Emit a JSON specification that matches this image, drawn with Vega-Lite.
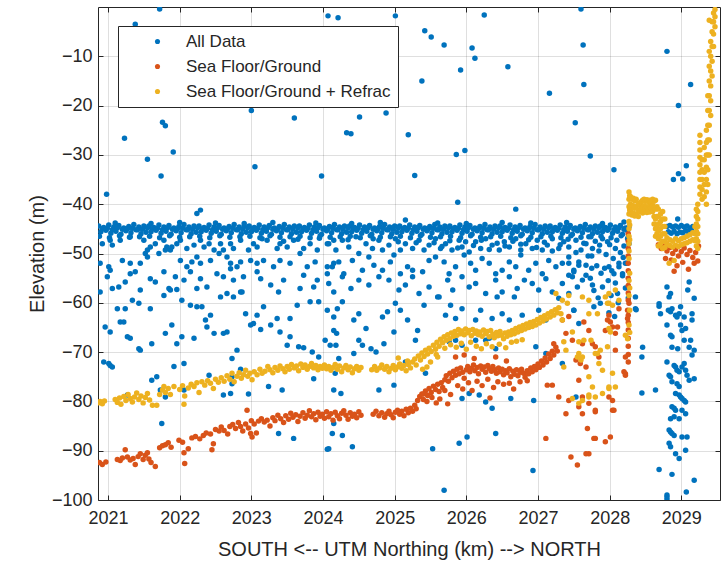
{
"$schema":"https://vega.github.io/schema/vega-lite/v6.json",
"width":622,"height":493,
"autosize":"none",
"padding":{"left":98,"top":7,"right":3,"bottom":62},
"background":"white",
"config":{
"font":"Liberation Sans",
"view":{"stroke":"#262626","strokeWidth":1},
"axis":{"labelFont":"Liberation Sans","labelFontSize":18,"labelColor":"#262626","titleFont":"Liberation Sans","titleFontSize":20,"titleFontWeight":"normal","titleColor":"#262626","domain":false,"tickColor":"#262626","gridColor":"#262626","gridOpacity":0.15,"tickSize":-5,"labelPadding":11},
"legend":{"orient":"none","legendX":20,"legendY":19,"direction":"vertical","padding":7,"symbolOffset":24,"labelOffset":20,"rowPadding":7,"labelFontSize":17,"labelFont":"Liberation Sans","labelColor":"#262626","strokeColor":"#262626","fillColor":"white","symbolType":"circle","symbolSize":26,"symbolStrokeWidth":0,"labelLimit":400,"cornerRadius":0}
},
"datasets":{
"all":[
{"x":2020.98,"y":-38},{"x":2021.38,"y":-3.5},{"x":2021.72,"y":-0.4},{"x":2021.23,"y":-26.6},{"x":2021.55,"y":-30.9},{"x":2021.76,"y":-23.4},{"x":2021.8,"y":-24.1},{"x":2021.91,"y":-29.4},{"x":2021.74,"y":-34.3},{"x":2022.24,"y":-41.9},{"x":2022.29,"y":-41.2},{"x":2023,"y":-21},{"x":2023.05,"y":-32.4},{"x":2023.6,"y":-22.5},{"x":2023.98,"y":-34.3},{"x":2024.07,"y":-1.8},{"x":2024.21,"y":-2.2},{"x":2025.01,"y":-1.8},{"x":2025.42,"y":-4.8},{"x":2025.51,"y":-6.1},{"x":2025.69,"y":-7.7},{"x":2026.08,"y":-8.3},{"x":2026.12,"y":-10.4},{"x":2026.25,"y":-1.6},{"x":2025.92,"y":-12.8},{"x":2026.58,"y":-12.1},{"x":2025.38,"y":-15},{"x":2024.51,"y":-22.3},{"x":2024.88,"y":-21.5},{"x":2024.33,"y":-25.5},{"x":2024.39,"y":-25.7},{"x":2025.19,"y":-25.9},{"x":2025.86,"y":-29.9},{"x":2025.98,"y":-29.1},{"x":2025.28,"y":-34.2},{"x":2025.88,"y":-39.6},{"x":2026.69,"y":-41},{"x":2027.16,"y":-17.5},{"x":2027.6,"y":-0.4},{"x":2027.63,"y":-7.7},{"x":2027.64,"y":-15.7},{"x":2027.52,"y":-23.5},{"x":2027.73,"y":-30.2},{"x":2028.06,"y":-33},{"x":2028.8,"y":-9},{"x":2029.13,"y":-15.7},{"x":2028.96,"y":-20},{"x":2029.07,"y":-32.2},{"x":2028.96,"y":-33.8},{"x":2028.89,"y":-35},{"x":2029.02,"y":-34.9},{"x":2028.95,"y":-43},{"x":2025.15,"y":-43.2},
{"x":2020.87,"y":-44.4},{"x":2020.94,"y":-44.7},{"x":2021.01,"y":-44.2},{"x":2021.08,"y":-44.6},{"x":2021.15,"y":-44.3},{"x":2021.22,"y":-44.8},{"x":2021.29,"y":-44.5},{"x":2021.36,"y":-44.1},{"x":2021.43,"y":-44.6},{"x":2021.5,"y":-44.4},
{"x":2021.57,"y":-44.4},{"x":2021.64,"y":-44.7},{"x":2021.71,"y":-44.2},{"x":2021.78,"y":-44.6},{"x":2021.85,"y":-44.3},{"x":2021.92,"y":-44.8},{"x":2021.99,"y":-44.5},{"x":2022.06,"y":-44.1},{"x":2022.13,"y":-44.6},{"x":2022.2,"y":-44.4},
{"x":2022.27,"y":-44.4},{"x":2022.34,"y":-44.7},{"x":2022.41,"y":-44.2},{"x":2022.48,"y":-44.6},{"x":2022.55,"y":-44.3},{"x":2022.62,"y":-44.8},{"x":2022.69,"y":-44.5},{"x":2022.76,"y":-44.1},{"x":2022.83,"y":-44.6},{"x":2022.9,"y":-44.4},
{"x":2022.97,"y":-44.4},{"x":2023.04,"y":-44.7},{"x":2023.11,"y":-44.2},{"x":2023.18,"y":-44.6},{"x":2023.25,"y":-44.3},{"x":2023.32,"y":-44.8},{"x":2023.39,"y":-44.5},{"x":2023.46,"y":-44.1},{"x":2023.53,"y":-44.6},{"x":2023.6,"y":-44.4},
{"x":2023.67,"y":-44.4},{"x":2023.74,"y":-44.7},{"x":2023.81,"y":-44.2},{"x":2023.88,"y":-44.6},{"x":2023.95,"y":-44.3},{"x":2024.02,"y":-44.8},{"x":2024.09,"y":-44.5},{"x":2024.16,"y":-44.1},{"x":2024.23,"y":-44.6},{"x":2024.3,"y":-44.4},
{"x":2024.37,"y":-44.4},{"x":2024.44,"y":-44.7},{"x":2024.51,"y":-44.2},{"x":2024.58,"y":-44.6},{"x":2024.65,"y":-44.3},{"x":2024.72,"y":-44.8},{"x":2024.79,"y":-44.5},{"x":2024.86,"y":-44.1},{"x":2024.93,"y":-44.6},{"x":2025,"y":-44.4},
{"x":2025.07,"y":-44.4},{"x":2025.14,"y":-44.7},{"x":2025.21,"y":-44.2},{"x":2025.28,"y":-44.6},{"x":2025.35,"y":-44.3},{"x":2025.42,"y":-44.8},{"x":2025.49,"y":-44.5},{"x":2025.56,"y":-44.1},{"x":2025.63,"y":-44.6},{"x":2025.7,"y":-44.4},
{"x":2025.77,"y":-44.4},{"x":2025.84,"y":-44.7},{"x":2025.91,"y":-44.2},{"x":2025.98,"y":-44.6},{"x":2026.05,"y":-44.3},{"x":2026.12,"y":-44.8},{"x":2026.19,"y":-44.5},{"x":2026.26,"y":-44.1},{"x":2026.33,"y":-44.6},{"x":2026.4,"y":-44.4},
{"x":2026.47,"y":-44.4},{"x":2026.54,"y":-44.7},{"x":2026.61,"y":-44.2},{"x":2026.68,"y":-44.6},{"x":2026.75,"y":-44.3},{"x":2026.82,"y":-44.8},{"x":2026.89,"y":-44.5},{"x":2026.96,"y":-44.1},{"x":2027.03,"y":-44.6},{"x":2027.1,"y":-44.4},
{"x":2027.17,"y":-44.4},{"x":2027.24,"y":-44.7},{"x":2027.31,"y":-44.2},{"x":2027.38,"y":-44.6},{"x":2027.45,"y":-44.3},{"x":2027.52,"y":-44.8},{"x":2027.59,"y":-44.5},{"x":2027.66,"y":-44.1},{"x":2027.73,"y":-44.6},{"x":2027.8,"y":-44.4},
{"x":2027.87,"y":-44.4},{"x":2027.94,"y":-44.7},{"x":2028.01,"y":-44.2},{"x":2028.08,"y":-44.6},{"x":2028.15,"y":-44.3},{"x":2028.22,"y":-44.8},{"x":2028.27,"y":-44.5},
{"x":2020.92,"y":-45},{"x":2020.99,"y":-44.9},{"x":2021.06,"y":-45.2},{"x":2021.13,"y":-44.8},{"x":2021.2,"y":-45.1},{"x":2021.27,"y":-45},{"x":2021.34,"y":-44.9},{"x":2021.41,"y":-45.2},{"x":2021.48,"y":-45.1},{"x":2021.55,"y":-44.8},
{"x":2021.62,"y":-45},{"x":2021.69,"y":-44.9},{"x":2021.76,"y":-45.2},{"x":2021.83,"y":-44.8},{"x":2021.9,"y":-45.1},{"x":2021.97,"y":-45},{"x":2022.04,"y":-44.9},{"x":2022.11,"y":-45.2},{"x":2022.18,"y":-45.1},{"x":2022.25,"y":-44.8},
{"x":2022.32,"y":-45},{"x":2022.39,"y":-44.9},{"x":2022.46,"y":-45.2},{"x":2022.53,"y":-44.8},{"x":2022.6,"y":-45.1},{"x":2022.67,"y":-45},{"x":2022.74,"y":-44.9},{"x":2022.81,"y":-45.2},{"x":2022.88,"y":-45.1},{"x":2022.95,"y":-44.8},
{"x":2023.02,"y":-45},{"x":2023.09,"y":-44.9},{"x":2023.16,"y":-45.2},{"x":2023.23,"y":-44.8},{"x":2023.3,"y":-45.1},{"x":2023.37,"y":-45},{"x":2023.44,"y":-44.9},{"x":2023.51,"y":-45.2},{"x":2023.58,"y":-45.1},{"x":2023.65,"y":-44.8},
{"x":2023.72,"y":-45},{"x":2023.79,"y":-44.9},{"x":2023.86,"y":-45.2},{"x":2023.93,"y":-44.8},{"x":2024,"y":-45.1},{"x":2024.07,"y":-45},{"x":2024.14,"y":-44.9},{"x":2024.21,"y":-45.2},{"x":2024.28,"y":-45.1},{"x":2024.35,"y":-44.8},
{"x":2024.42,"y":-45},{"x":2024.49,"y":-44.9},{"x":2024.56,"y":-45.2},{"x":2024.63,"y":-44.8},{"x":2024.7,"y":-45.1},{"x":2024.77,"y":-45},{"x":2024.84,"y":-44.9},{"x":2024.91,"y":-45.2},{"x":2024.98,"y":-45.1},{"x":2025.05,"y":-44.8},
{"x":2025.12,"y":-45},{"x":2025.19,"y":-44.9},{"x":2025.26,"y":-45.2},{"x":2025.33,"y":-44.8},{"x":2025.4,"y":-45.1},{"x":2025.47,"y":-45},{"x":2025.54,"y":-44.9},{"x":2025.61,"y":-45.2},{"x":2025.68,"y":-45.1},{"x":2025.75,"y":-44.8},
{"x":2025.82,"y":-45},{"x":2025.89,"y":-44.9},{"x":2025.96,"y":-45.2},{"x":2026.03,"y":-44.8},{"x":2026.1,"y":-45.1},{"x":2026.17,"y":-45},{"x":2026.24,"y":-44.9},{"x":2026.31,"y":-45.2},{"x":2026.38,"y":-45.1},{"x":2026.45,"y":-44.8},
{"x":2026.52,"y":-45},{"x":2026.59,"y":-44.9},{"x":2026.66,"y":-45.2},{"x":2026.73,"y":-44.8},{"x":2026.8,"y":-45.1},{"x":2026.87,"y":-45},{"x":2026.94,"y":-44.9},{"x":2027.01,"y":-45.2},{"x":2027.08,"y":-45.1},{"x":2027.15,"y":-44.8},
{"x":2027.22,"y":-45},{"x":2027.29,"y":-44.9},{"x":2027.36,"y":-45.2},{"x":2027.43,"y":-44.8},{"x":2027.5,"y":-45.1},{"x":2027.57,"y":-45},{"x":2027.64,"y":-44.9},{"x":2027.71,"y":-45.2},{"x":2027.78,"y":-45.1},{"x":2027.85,"y":-44.8},
{"x":2027.92,"y":-45},{"x":2027.99,"y":-44.9},{"x":2028.06,"y":-45.2},{"x":2028.13,"y":-44.8},{"x":2028.2,"y":-45.1},
{"x":2020.9,"y":-45.6},{"x":2020.97,"y":-45.3},{"x":2021.04,"y":-45.9},{"x":2021.11,"y":-45.5},{"x":2021.18,"y":-46.1},{"x":2021.25,"y":-45.4},{"x":2021.32,"y":-45.8},{"x":2021.39,"y":-45.2},{"x":2021.46,"y":-46},{"x":2021.53,"y":-45.7},
{"x":2021.6,"y":-45.6},{"x":2021.67,"y":-45.3},{"x":2021.74,"y":-45.9},{"x":2021.81,"y":-45.5},{"x":2021.88,"y":-46.1},{"x":2021.95,"y":-45.4},{"x":2022.02,"y":-45.8},{"x":2022.09,"y":-45.2},{"x":2022.16,"y":-46},{"x":2022.23,"y":-45.7},
{"x":2022.3,"y":-45.6},{"x":2022.37,"y":-45.3},{"x":2022.44,"y":-45.9},{"x":2022.51,"y":-45.5},{"x":2022.58,"y":-46.1},{"x":2022.65,"y":-45.4},{"x":2022.72,"y":-45.8},{"x":2022.79,"y":-45.2},{"x":2022.86,"y":-46},{"x":2022.93,"y":-45.7},
{"x":2023,"y":-45.6},{"x":2023.07,"y":-45.3},{"x":2023.14,"y":-45.9},{"x":2023.21,"y":-45.5},{"x":2023.28,"y":-46.1},{"x":2023.35,"y":-45.4},{"x":2023.42,"y":-45.8},{"x":2023.49,"y":-45.2},{"x":2023.56,"y":-46},{"x":2023.63,"y":-45.7},
{"x":2023.7,"y":-45.6},{"x":2023.77,"y":-45.3},{"x":2023.84,"y":-45.9},{"x":2023.91,"y":-45.5},{"x":2023.98,"y":-46.1},{"x":2024.05,"y":-45.4},{"x":2024.12,"y":-45.8},{"x":2024.19,"y":-45.2},{"x":2024.26,"y":-46},{"x":2024.33,"y":-45.7},
{"x":2024.4,"y":-45.6},{"x":2024.47,"y":-45.3},{"x":2024.54,"y":-45.9},{"x":2024.61,"y":-45.5},{"x":2024.68,"y":-46.1},{"x":2024.75,"y":-45.4},{"x":2024.82,"y":-45.8},{"x":2024.89,"y":-45.2},{"x":2024.96,"y":-46},{"x":2025.03,"y":-45.7},
{"x":2025.1,"y":-45.6},{"x":2025.17,"y":-45.3},{"x":2025.24,"y":-45.9},{"x":2025.31,"y":-45.5},{"x":2025.38,"y":-46.1},{"x":2025.45,"y":-45.4},{"x":2025.52,"y":-45.8},{"x":2025.59,"y":-45.2},{"x":2025.66,"y":-46},{"x":2025.73,"y":-45.7},
{"x":2025.8,"y":-45.6},{"x":2025.87,"y":-45.3},{"x":2025.94,"y":-45.9},{"x":2026.01,"y":-45.5},{"x":2026.08,"y":-46.1},{"x":2026.15,"y":-45.4},{"x":2026.22,"y":-45.8},{"x":2026.29,"y":-45.2},{"x":2026.36,"y":-46},{"x":2026.43,"y":-45.7},
{"x":2026.5,"y":-45.6},{"x":2026.57,"y":-45.3},{"x":2026.64,"y":-45.9},{"x":2026.71,"y":-45.5},{"x":2026.78,"y":-46.1},{"x":2026.85,"y":-45.4},{"x":2026.92,"y":-45.8},{"x":2026.99,"y":-45.2},{"x":2027.06,"y":-46},{"x":2027.13,"y":-45.7},
{"x":2027.2,"y":-45.6},{"x":2027.27,"y":-45.3},{"x":2027.34,"y":-45.9},{"x":2027.41,"y":-45.5},{"x":2027.48,"y":-46.1},{"x":2027.55,"y":-45.4},{"x":2027.62,"y":-45.8},{"x":2027.69,"y":-45.2},{"x":2027.76,"y":-46},{"x":2027.83,"y":-45.7},
{"x":2027.9,"y":-45.6},{"x":2027.97,"y":-45.3},{"x":2028.04,"y":-45.9},{"x":2028.11,"y":-45.5},{"x":2028.18,"y":-46.1},{"x":2028.25,"y":-45.4},
{"x":2021.1,"y":-43.8},{"x":2021.6,"y":-43.9},{"x":2022,"y":-43.7},{"x":2022.5,"y":-43.8},{"x":2022.9,"y":-43.9},{"x":2023.3,"y":-43.7},{"x":2023.9,"y":-43.8},{"x":2024.4,"y":-43.9},{"x":2024.8,"y":-43.7},{"x":2025.6,"y":-43.8},{"x":2026,"y":-43.9},{"x":2026.5,"y":-43.7},{"x":2026.9,"y":-43.8},{"x":2027.4,"y":-43.7},{"x":2027.9,"y":-43.9},{"x":2028.2,"y":-43.6},
{"x":2020.88,"y":-46.5},{"x":2021.02,"y":-46.8},{"x":2021.16,"y":-46.4},{"x":2021.3,"y":-46.7},{"x":2021.44,"y":-46.6},{"x":2021.58,"y":-46.5},{"x":2021.72,"y":-46.8},{"x":2021.86,"y":-46.4},{"x":2022,"y":-46.7},{"x":2022.14,"y":-46.6},{"x":2022.28,"y":-46.5},{"x":2022.42,"y":-46.8},{"x":2022.56,"y":-46.4},{"x":2022.7,"y":-46.7},{"x":2022.84,"y":-46.6},{"x":2022.98,"y":-46.5},{"x":2023.12,"y":-46.8},{"x":2023.26,"y":-46.4},{"x":2023.4,"y":-46.7},{"x":2023.54,"y":-46.6},{"x":2023.68,"y":-46.5},{"x":2023.82,"y":-46.8},{"x":2023.96,"y":-46.4},{"x":2024.1,"y":-46.7},{"x":2024.24,"y":-46.6},{"x":2024.38,"y":-46.5},{"x":2024.52,"y":-46.8},{"x":2024.66,"y":-46.4},{"x":2024.8,"y":-46.7},{"x":2024.94,"y":-46.6},{"x":2025.08,"y":-46.5},{"x":2025.22,"y":-46.8},{"x":2025.36,"y":-46.4},{"x":2025.5,"y":-46.7},{"x":2025.64,"y":-46.6},{"x":2025.78,"y":-46.5},{"x":2025.92,"y":-46.8},{"x":2026.06,"y":-46.4},{"x":2026.2,"y":-46.7},{"x":2026.34,"y":-46.6},{"x":2026.48,"y":-46.5},{"x":2026.62,"y":-46.8},{"x":2026.76,"y":-46.4},{"x":2026.9,"y":-46.7},{"x":2027.04,"y":-46.6},{"x":2027.18,"y":-46.5},{"x":2027.32,"y":-46.8},{"x":2027.46,"y":-46.4},{"x":2027.6,"y":-46.7},{"x":2027.74,"y":-46.6},{"x":2027.88,"y":-46.5},{"x":2028.02,"y":-46.8},{"x":2028.16,"y":-46.4},{"x":2028.26,"y":-46.7},
{"x":2020.92,"y":-48},{"x":2021.03,"y":-47.3},{"x":2021.06,"y":-48.3},{"x":2021.17,"y":-47.3},{"x":2021.31,"y":-46.6},{"x":2021.5,"y":-47.3},{"x":2021.55,"y":-49.3},{"x":2021.59,"y":-48.7},{"x":2021.66,"y":-48},{"x":2021.78,"y":-47.3},{"x":2021.82,"y":-48.7},{"x":2021.87,"y":-49.3},{"x":2021.96,"y":-48},{"x":2022.01,"y":-47.3},{"x":2022.1,"y":-49},{"x":2022.2,"y":-48.3},{"x":2022.29,"y":-47.3},{"x":2022.34,"y":-48.7},{"x":2022.41,"y":-48},{"x":2022.48,"y":-49.3},{"x":2022.57,"y":-48},{"x":2022.61,"y":-49.3},{"x":2022.71,"y":-48},{"x":2022.75,"y":-49},{"x":2022.85,"y":-47.3},{"x":2022.96,"y":-49.3},{"x":2023.03,"y":-48},{"x":2023.08,"y":-48.7},{"x":2023.22,"y":-47.3},{"x":2023.36,"y":-49},{"x":2023.4,"y":-48},{"x":2023.5,"y":-48.7},{"x":2023.59,"y":-47.3},{"x":2023.73,"y":-49},{"x":2023.82,"y":-48},{"x":2023.92,"y":-49.3},{"x":2024.06,"y":-48},{"x":2024.15,"y":-47.3},
{"x":2020.89,"y":-52},{"x":2021.01,"y":-52.7},{"x":2021.03,"y":-53.4},{"x":2021.2,"y":-51.4},{"x":2021.31,"y":-52},{"x":2021.45,"y":-52},{"x":2021.52,"y":-50},{"x":2021.55,"y":-50.7},{"x":2021.71,"y":-50},{"x":2021.8,"y":-49.3},{"x":2021.89,"y":-48.7},{"x":2022.01,"y":-51.4},{"x":2022.1,"y":-52.7},{"x":2022.17,"y":-51.7},{"x":2022.24,"y":-50.7},{"x":2022.29,"y":-52},{"x":2022.43,"y":-51.4},{"x":2022.55,"y":-50},{"x":2022.66,"y":-50.7},{"x":2022.71,"y":-52},{"x":2022.8,"y":-52.7},{"x":2022.85,"y":-51.7},{"x":2022.99,"y":-51.4},{"x":2023.08,"y":-52},{"x":2023.17,"y":-51.4},{"x":2023.31,"y":-52.7},{"x":2023.4,"y":-51.4},{"x":2023.54,"y":-52},{"x":2023.68,"y":-50},{"x":2023.78,"y":-52.7},{"x":2023.89,"y":-51.7},{"x":2024.06,"y":-52.7},{"x":2024.15,"y":-52},
{"x":2020.99,"y":-54.7},{"x":2021.06,"y":-57.1},{"x":2021.15,"y":-56.8},{"x":2021.24,"y":-55.8},{"x":2021.31,"y":-54.1},{"x":2021.38,"y":-53.7},{"x":2021.45,"y":-57.4},{"x":2021.59,"y":-55.1},{"x":2021.66,"y":-55.8},{"x":2021.78,"y":-53.7},{"x":2021.87,"y":-57.4},{"x":2021.94,"y":-54.7},{"x":2021.96,"y":-57.3},{"x":2022.06,"y":-55.4},{"x":2022.15,"y":-53.7},{"x":2022.24,"y":-57.1},{"x":2022.29,"y":-55.1},{"x":2022.38,"y":-56.8},{"x":2022.52,"y":-54.1},{"x":2022.61,"y":-54.7},{"x":2022.71,"y":-53.1},{"x":2022.75,"y":-55.4},{"x":2022.85,"y":-57.8},{"x":2022.89,"y":-54.7},{"x":2023.08,"y":-53.7},{"x":2023.13,"y":-55.1},{"x":2023.27,"y":-56.4},{"x":2023.38,"y":-57.8},{"x":2023.45,"y":-55.4},{"x":2023.68,"y":-57.1},{"x":2023.73,"y":-54.4},{"x":2023.87,"y":-56.8},{"x":2023.92,"y":-55.4},{"x":2024.06,"y":-54.1},
{"x":2020.89,"y":-57.8},{"x":2021.13,"y":-61.2},{"x":2021.24,"y":-61.2},{"x":2021.34,"y":-59.5},{"x":2021.43,"y":-60.1},{"x":2021.59,"y":-61.2},{"x":2021.78,"y":-58.5},{"x":2021.85,"y":-57.1},{"x":2022.03,"y":-59.5},{"x":2022.15,"y":-60.5},{"x":2022.24,"y":-60.8},{"x":2022.31,"y":-60.8},{"x":2022.36,"y":-63.5},{"x":2022.43,"y":-62.5},{"x":2022.57,"y":-58.8},{"x":2022.66,"y":-58.1},{"x":2022.75,"y":-58.8},{"x":2022.87,"y":-57.8},{"x":2022.92,"y":-62.2},{"x":2023.08,"y":-62.5},{"x":2023.17,"y":-60.8},{"x":2023.27,"y":-64.5},{"x":2023.36,"y":-63.2},{"x":2023.54,"y":-63.2},{"x":2023.64,"y":-60.5},{"x":2023.82,"y":-59.8},{"x":2023.94,"y":-59.8},{"x":2024.06,"y":-61.5},{"x":2024.15,"y":-62.9},
{"x":2020.96,"y":-64.9},{"x":2021.03,"y":-65.9},{"x":2021.17,"y":-63.9},{"x":2021.22,"y":-63.9},{"x":2021.27,"y":-66.9},{"x":2021.31,"y":-67.2},{"x":2021.43,"y":-69.3},{"x":2021.45,"y":-69.6},{"x":2021.61,"y":-68.3},{"x":2021.8,"y":-66.2},{"x":2021.89,"y":-64.5},{"x":2021.96,"y":-68.3},{"x":2022.03,"y":-66.9},{"x":2022.2,"y":-67.2},{"x":2022.38,"y":-64.9},{"x":2022.48,"y":-66.2},{"x":2022.61,"y":-66.2},{"x":2022.66,"y":-65.9},{"x":2022.8,"y":-69.6},{"x":2022.99,"y":-64.5},{"x":2023.03,"y":-64.2},{"x":2023.13,"y":-65.4},{"x":2023.4,"y":-65.9},{"x":2023.54,"y":-66.9},{"x":2023.5,"y":-68.6},{"x":2023.66,"y":-68.9},{"x":2023.73,"y":-69.1},{"x":2023.85,"y":-70},{"x":2023.94,"y":-71},{"x":2024.03,"y":-67.6},{"x":2024.1,"y":-68.6},{"x":2024.19,"y":-66.2},
{"x":2020.94,"y":-72},{"x":2021.01,"y":-72.3},{"x":2021.03,"y":-72.7},{"x":2021.06,"y":-73},{"x":2021.61,"y":-75.7},{"x":2021.68,"y":-75},{"x":2021.73,"y":-77.7},{"x":2021.8,"y":-79.1},{"x":2021.92,"y":-72.9},{"x":2022.06,"y":-72.3},{"x":2022.06,"y":-77.7},{"x":2022.41,"y":-74.7},{"x":2022.61,"y":-78.7},{"x":2022.71,"y":-78.4},{"x":2022.73,"y":-71.3},{"x":2022.73,"y":-75},{"x":2022.73,"y":-76.4},{"x":2022.85,"y":-73.5},{"x":2022.96,"y":-78.5},{"x":2023.43,"y":-77.7},{"x":2023.24,"y":-77},{"x":2023.87,"y":-75.4},{"x":2024.17,"y":-74.3},{"x":2024.15,"y":-77.7},
{"x":2021.27,"y":-78.7},{"x":2021.75,"y":-84.5},{"x":2023.38,"y":-86.5},{"x":2023.59,"y":-87.5},{"x":2024.06,"y":-89.7},{"x":2024.15,"y":-84.5},
{"x":2024.08,"y":-48},{"x":2024.18,"y":-49.3},{"x":2024.27,"y":-47.3},{"x":2024.36,"y":-48.7},{"x":2024.46,"y":-46.6},{"x":2024.5,"y":-50},{"x":2024.6,"y":-48},{"x":2024.69,"y":-49},{"x":2024.78,"y":-47.3},{"x":2024.83,"y":-49.3},{"x":2024.92,"y":-48.3},{"x":2025.01,"y":-47},{"x":2025.08,"y":-49.3},{"x":2025.15,"y":-48},{"x":2025.25,"y":-49},{"x":2025.34,"y":-47.3},{"x":2025.41,"y":-49.3},{"x":2025.48,"y":-48.3},{"x":2025.57,"y":-47},{"x":2025.64,"y":-49},{"x":2025.71,"y":-48},{"x":2025.8,"y":-49.3},{"x":2025.9,"y":-47.3},{"x":2025.94,"y":-48.7},{"x":2026.04,"y":-49.7},{"x":2026.13,"y":-47.6},{"x":2026.2,"y":-49},{"x":2026.27,"y":-47},{"x":2026.36,"y":-48.3},{"x":2026.46,"y":-49.3},{"x":2026.53,"y":-47.6},{"x":2026.6,"y":-48.7},{"x":2026.69,"y":-47},{"x":2026.76,"y":-49.3},{"x":2026.83,"y":-48},{"x":2026.92,"y":-49},{"x":2026.99,"y":-47.3},{"x":2027.06,"y":-49.3},{"x":2027.13,"y":-48.3},{"x":2027.2,"y":-47},{"x":2027.29,"y":-49},{"x":2027.36,"y":-47.6},{"x":2027.43,"y":-48.7},{"x":2027.53,"y":-47.3},{"x":2027.6,"y":-49.3},{"x":2027.67,"y":-48},{"x":2027.71,"y":-46.6},{"x":2027.76,"y":-49},
{"x":2024.13,"y":-52.7},{"x":2024.22,"y":-51.7},{"x":2024.29,"y":-54.1},{"x":2024.41,"y":-51.4},{"x":2024.55,"y":-53.4},{"x":2024.64,"y":-50.7},{"x":2024.71,"y":-52.4},{"x":2024.83,"y":-53.4},{"x":2024.94,"y":-51.7},{"x":2024.99,"y":-50.3},{"x":2025.08,"y":-54.1},{"x":2025.18,"y":-52.7},{"x":2025.25,"y":-53.4},{"x":2025.39,"y":-53.7},{"x":2025.48,"y":-51.4},{"x":2025.57,"y":-50.7},{"x":2025.69,"y":-51.7},{"x":2025.76,"y":-54.1},{"x":2025.85,"y":-52.7},{"x":2025.97,"y":-50.3},{"x":2026.06,"y":-52},{"x":2026.13,"y":-53.4},{"x":2026.22,"y":-51},{"x":2026.32,"y":-52},{"x":2026.41,"y":-54.1},{"x":2026.5,"y":-53.4},{"x":2026.6,"y":-51.7},{"x":2026.69,"y":-52.7},{"x":2026.76,"y":-50.3},{"x":2026.87,"y":-53.4},{"x":2026.97,"y":-52},{"x":2027.06,"y":-54.1},{"x":2027.15,"y":-51.4},{"x":2027.25,"y":-52.7},{"x":2027.34,"y":-52},{"x":2027.43,"y":-50.7},{"x":2027.5,"y":-53.7},{"x":2027.57,"y":-51.7},{"x":2027.67,"y":-52.4},
{"x":2024.08,"y":-56.1},{"x":2024.15,"y":-57.8},{"x":2024.27,"y":-54.7},{"x":2024.39,"y":-57.1},{"x":2024.5,"y":-55.4},{"x":2024.64,"y":-56.4},{"x":2024.78,"y":-54.7},{"x":2024.92,"y":-55.4},{"x":2025.06,"y":-57.4},{"x":2025.15,"y":-56.4},{"x":2025.25,"y":-54.7},{"x":2025.34,"y":-58.1},{"x":2025.48,"y":-56.8},{"x":2025.62,"y":-58.8},{"x":2025.74,"y":-55.4},{"x":2025.81,"y":-57.4},{"x":2025.94,"y":-54.7},{"x":2026.04,"y":-56.8},{"x":2026.13,"y":-56.1},{"x":2026.27,"y":-58.1},{"x":2026.41,"y":-55.4},{"x":2026.5,"y":-57.8},{"x":2026.6,"y":-54.7},{"x":2026.71,"y":-57.1},{"x":2026.81,"y":-55.4},{"x":2026.92,"y":-56.1},{"x":2027.01,"y":-57.4},{"x":2027.11,"y":-55.1},{"x":2027.2,"y":-57.8},{"x":2027.34,"y":-56.1},{"x":2027.43,"y":-54.4},{"x":2027.55,"y":-56.8},{"x":2027.62,"y":-55.4},
{"x":2024.2,"y":-61.2},{"x":2024.27,"y":-59.8},{"x":2024.15,"y":-65.6},{"x":2024.43,"y":-63.5},{"x":2024.5,"y":-62.2},{"x":2024.6,"y":-65.2},{"x":2024.83,"y":-62.9},{"x":2024.9,"y":-61.8},{"x":2025.01,"y":-60.1},{"x":2025.08,"y":-61.5},{"x":2025.18,"y":-63.5},{"x":2025.32,"y":-65.6},{"x":2025.41,"y":-60.5},{"x":2025.6,"y":-58.8},{"x":2025.71,"y":-62.5},{"x":2025.78,"y":-60.5},{"x":2025.85,"y":-63.2},{"x":2025.94,"y":-61.2},{"x":2026.13,"y":-63.5},{"x":2026.2,"y":-61.5},{"x":2026.36,"y":-63.2},{"x":2026.43,"y":-58.8},{"x":2026.5,"y":-62.2},{"x":2026.6,"y":-63.5},{"x":2026.67,"y":-58.8},{"x":2026.78,"y":-62.5},{"x":2026.87,"y":-64.9},{"x":2027.01,"y":-61.5},{"x":2027.11,"y":-63.5},{"x":2027.29,"y":-59.1},{"x":2027.43,"y":-58.1},{"x":2027.5,"y":-61.5},{"x":2027.57,"y":-64.2},
{"x":2024.18,"y":-68.6},{"x":2024.22,"y":-71.3},{"x":2024.43,"y":-70.3},{"x":2024.5,"y":-67.6},{"x":2024.55,"y":-68.6},{"x":2024.67,"y":-69.3},{"x":2024.74,"y":-70},{"x":2024.85,"y":-68.3},{"x":2024.99,"y":-65.9},{"x":2025.15,"y":-72},{"x":2025.29,"y":-67.6},{"x":2025.43,"y":-74.3},{"x":2025.76,"y":-67.9},{"x":2025.85,"y":-67.6},{"x":2025.94,"y":-68.6},{"x":2026.13,"y":-67.6},{"x":2026.27,"y":-67.6},{"x":2026.32,"y":-67.2},{"x":2026.41,"y":-69.3},{"x":2026.97,"y":-68.9},{"x":2027.11,"y":-70.3},{"x":2027.34,"y":-72.3},
{"x":2024.25,"y":-78.4},{"x":2024.08,"y":-89.6},{"x":2024.13,"y":-86.5},{"x":2024.27,"y":-86.9},{"x":2024.41,"y":-89.2},{"x":2024.78,"y":-77.7},{"x":2024.99,"y":-76.7},{"x":2025.53,"y":-89.6},{"x":2025.69,"y":-98},{"x":2025.9,"y":-88.5},{"x":2025.94,"y":-79.4},{"x":2026.01,"y":-87.2},{"x":2026.04,"y":-78.4},{"x":2026.18,"y":-78.7},{"x":2026.27,"y":-80.1},{"x":2026.36,"y":-81.4},{"x":2026.41,"y":-86.5},{"x":2026.62,"y":-79.4},{"x":2026.94,"y":-79.8},{"x":2026.93,"y":-94},{"x":2027.53,"y":-79.1},
{"x":2025.55,"y":-47.8},{"x":2025.66,"y":-48.6},{"x":2025.77,"y":-47.4},{"x":2025.88,"y":-48.9},{"x":2025.99,"y":-47.6},{"x":2026.1,"y":-48.4},{"x":2026.21,"y":-47.3},{"x":2026.32,"y":-49.2},{"x":2026.43,"y":-47.9},{"x":2026.54,"y":-48.5},{"x":2026.65,"y":-47.5},{"x":2026.76,"y":-48.1},{"x":2026.87,"y":-47.2},{"x":2026.98,"y":-48.8},{"x":2027.09,"y":-47.7},{"x":2027.2,"y":-49.5},{"x":2027.31,"y":-48.2},{"x":2027.42,"y":-47.1},{"x":2027.53,"y":-49.8},{"x":2027.64,"y":-47.9},{"x":2027.75,"y":-50.5},{"x":2027.86,"y":-48.3},{"x":2027.97,"y":-47.6},{"x":2028.08,"y":-49},{"x":2028.19,"y":-50.8},{"x":2028.27,"y":-48},{"x":2023.15,"y":-47},{"x":2023.45,"y":-47.5},{"x":2023.65,"y":-47.1},{"x":2023.95,"y":-46.9},{"x":2024.35,"y":-47.2},{"x":2024.7,"y":-47},{"x":2025.05,"y":-47.6},{"x":2025.3,"y":-47.8},
{"x":2027.8,"y":-47.5},{"x":2027.85,"y":-49.5},{"x":2027.9,"y":-47},{"x":2027.95,"y":-50.2},{"x":2028,"y":-48.2},{"x":2028.05,"y":-51},{"x":2028.1,"y":-47.3},{"x":2028.15,"y":-49.8},{"x":2028.2,"y":-48.5},{"x":2028.25,"y":-47},{"x":2027.82,"y":-52.5},{"x":2027.88,"y":-54},{"x":2027.93,"y":-53},{"x":2027.98,"y":-55.5},{"x":2028.03,"y":-53.5},{"x":2028.08,"y":-56},{"x":2028.13,"y":-52},{"x":2028.18,"y":-54.5},{"x":2028.22,"y":-57},{"x":2027.73,"y":-55},{"x":2027.78,"y":-57.5},{"x":2027.84,"y":-59},{"x":2027.7,"y":-50.5},{"x":2027.75,"y":-53},{"x":2028.02,"y":-58.5},{"x":2028.12,"y":-60},{"x":2028.24,"y":-52},{"x":2028.26,"y":-59},{"x":2027.99,"y":-62},{"x":2028.07,"y":-62.8},
{"x":2027.43,"y":-52},{"x":2027.5,"y":-53.4},{"x":2027.57,"y":-52.4},{"x":2027.48,"y":-54.7},{"x":2027.67,"y":-54.4},{"x":2027.76,"y":-56.4},{"x":2027.9,"y":-56.8},{"x":2028.06,"y":-54.1},{"x":2028.13,"y":-52.7},{"x":2027.99,"y":-52.7},{"x":2028.18,"y":-54.1},{"x":2028.22,"y":-52},{"x":2027.78,"y":-60.8},{"x":2027.87,"y":-60.1},{"x":2027.5,"y":-61.5},{"x":2028.11,"y":-58.1},{"x":2028.36,"y":-58.8},{"x":2028.36,"y":-61.2},{"x":2028.69,"y":-60.2},
{"x":2028.8,"y":-44.5},{"x":2028.84,"y":-44.3},{"x":2028.88,"y":-44.6},{"x":2028.92,"y":-44.4},{"x":2028.96,"y":-44.7},{"x":2029,"y":-44.3},{"x":2029.04,"y":-44.6},{"x":2029.08,"y":-44.4},{"x":2029.12,"y":-44.8},{"x":2029.16,"y":-44.5},{"x":2028.82,"y":-45.6},{"x":2028.86,"y":-45.9},{"x":2028.9,"y":-45.5},{"x":2028.94,"y":-46},{"x":2028.98,"y":-45.7},{"x":2029.02,"y":-45.8},{"x":2029.06,"y":-45.4},{"x":2029.1,"y":-45.6},{"x":2029.14,"y":-45.2},
{"x":2028.8,"y":-56.8},{"x":2028.85,"y":-58.1},{"x":2028.83,"y":-58.8},{"x":2029.11,"y":-55.8},{"x":2029.09,"y":-57.4},{"x":2029.18,"y":-59.1},
{"x":2028.69,"y":-60.7},{"x":2028.71,"y":-62.2},{"x":2028.82,"y":-61.5},{"x":2028.85,"y":-61.8},{"x":2028.87,"y":-61.2},{"x":2028.92,"y":-62.5},{"x":2028.94,"y":-62.9},{"x":2028.97,"y":-62.2},{"x":2028.99,"y":-60.8},{"x":2029.04,"y":-62.9},{"x":2029.15,"y":-62.2},{"x":2029.15,"y":-63.5},{"x":2028.99,"y":-64.5},{"x":2028.8,"y":-64.5},{"x":2028.87,"y":-66.9},{"x":2028.85,"y":-66.6},{"x":2029.04,"y":-67.6},{"x":2029.06,"y":-65.2},{"x":2029.01,"y":-65.6},{"x":2029.13,"y":-67.6},{"x":2029.18,"y":-69.6},{"x":2029.15,"y":-70.6},{"x":2029.11,"y":-69},{"x":2028.95,"y":-69.3},{"x":2028.87,"y":-69},{"x":2028.8,"y":-72},{"x":2028.83,"y":-74.7},{"x":2028.85,"y":-75},{"x":2028.87,"y":-76},{"x":2028.9,"y":-72.7},{"x":2028.92,"y":-73},{"x":2028.94,"y":-73.7},{"x":2028.97,"y":-74},{"x":2029.01,"y":-73},{"x":2029.04,"y":-72.3},{"x":2029.06,"y":-73.7},{"x":2029.08,"y":-74.7},{"x":2029.11,"y":-75.7},{"x":2029.18,"y":-75.4},{"x":2028.94,"y":-76.4},{"x":2028.97,"y":-77},{"x":2028.92,"y":-78.4},{"x":2028.97,"y":-78.7},{"x":2028.99,"y":-79.1},{"x":2029.01,"y":-79.4},{"x":2029.04,"y":-79.8},{"x":2029.06,"y":-80.1},{"x":2028.87,"y":-81.1},{"x":2028.9,"y":-81.4},{"x":2028.92,"y":-81.8},{"x":2029.01,"y":-81.8},{"x":2029.06,"y":-82.5},{"x":2028.85,"y":-83.5},{"x":2028.9,"y":-83.1},{"x":2028.97,"y":-83.5},{"x":2028.83,"y":-85.8},{"x":2028.85,"y":-86.2},{"x":2028.87,"y":-86.5},{"x":2028.9,"y":-86.9},{"x":2029.01,"y":-87.2},{"x":2029.08,"y":-87.2},{"x":2028.83,"y":-88.5},{"x":2028.85,"y":-89.2},{"x":2028.92,"y":-90.6},{"x":2028.97,"y":-91.6},{"x":2029.06,"y":-89.9},{"x":2028.69,"y":-93.8},{"x":2028.87,"y":-94.8},{"x":2029.18,"y":-96},{"x":2029.07,"y":-98.4},{"x":2028.8,"y":-99},{"x":2028.8,"y":-99.4},{"x":2028.8,"y":-99.9},
{"x":2028.46,"y":-69},{"x":2028.45,"y":-71},{"x":2028.45,"y":-78.3},{"x":2028.64,"y":-77.7},{"x":2028.37,"y":-61.4}
],
"sf":[
{"x":2020.88,"y":-92.4},{"x":2020.92,"y":-92.8},{"x":2020.97,"y":-92.3},{"x":2021.13,"y":-91.8},{"x":2021.17,"y":-92},{"x":2021.2,"y":-91.5},{"x":2021.24,"y":-89.8},{"x":2021.27,"y":-91.3},{"x":2021.31,"y":-91.9},{"x":2021.35,"y":-91.6},{"x":2021.38,"y":-92.8},{"x":2021.42,"y":-91.2},{"x":2021.45,"y":-90.6},{"x":2021.49,"y":-91.8},{"x":2021.52,"y":-90.9},{"x":2021.55,"y":-90.4},{"x":2021.57,"y":-91.7},{"x":2021.6,"y":-92.4},{"x":2021.66,"y":-93.2},{"x":2021.72,"y":-89.4},{"x":2021.76,"y":-89},{"x":2021.8,"y":-88.8},{"x":2021.84,"y":-88.4},{"x":2021.88,"y":-89.3},{"x":2021.99,"y":-87.9},{"x":2022.04,"y":-88.3},{"x":2022.06,"y":-90.4},{"x":2022.07,"y":-92.6},{"x":2022.12,"y":-89.6},{"x":2022.17,"y":-87.4},{"x":2022.22,"y":-87.1},{"x":2022.28,"y":-87.6},{"x":2022.33,"y":-86.9},{"x":2022.37,"y":-86.4},{"x":2022.43,"y":-86.6},{"x":2022.47,"y":-88.6},{"x":2022.45,"y":-89.8},{"x":2022.5,"y":-85.7},{"x":2022.55,"y":-86},{"x":2022.58,"y":-85.2},{"x":2022.62,"y":-85.9},{"x":2022.67,"y":-86.6},{"x":2022.7,"y":-85.1},{"x":2022.74,"y":-84.7},{"x":2022.78,"y":-85.5},{"x":2022.82,"y":-84.3},{"x":2022.85,"y":-85.1},{"x":2022.88,"y":-86},{"x":2022.92,"y":-84.6},{"x":2022.94,"y":-81.8},{"x":2022.96,"y":-85.4},{"x":2022.99,"y":-86.5},{"x":2023.01,"y":-87.2},{"x":2023,"y":-83.9},{"x":2023.04,"y":-84.6},{"x":2023.07,"y":-86.4},{"x":2023.1,"y":-84},{"x":2023.14,"y":-83.5},{"x":2023.18,"y":-84.2},{"x":2023.22,"y":-83.8},{"x":2023.26,"y":-85},{"x":2023.3,"y":-83.3},{"x":2023.33,"y":-83.9},{"x":2023.37,"y":-82.8},{"x":2023.41,"y":-83.5},{"x":2023.45,"y":-84.3},{"x":2023.48,"y":-82.9},{"x":2023.52,"y":-83.6},{"x":2023.55,"y":-82.4},{"x":2023.58,"y":-83.2},{"x":2023.62,"y":-82.7},{"x":2023.65,"y":-84.1},{"x":2023.68,"y":-83},{"x":2023.72,"y":-82.3},{"x":2023.75,"y":-83.4},{"x":2023.78,"y":-82.8},{"x":2023.81,"y":-81.9},{"x":2023.84,"y":-83.1},{"x":2023.87,"y":-82.5},{"x":2023.9,"y":-83.7},{"x":2023.93,"y":-82.2},{"x":2023.96,"y":-83},{"x":2023.99,"y":-82.6},{"x":2024.02,"y":-83.4},{"x":2024.05,"y":-82.1},{"x":2024.08,"y":-83.1},{"x":2024.11,"y":-82.5},{"x":2024.14,"y":-83.8},{"x":2024.17,"y":-82.2},{"x":2024.2,"y":-82.9},{"x":2024.23,"y":-83.5},{"x":2024.26,"y":-82.4},{"x":2024.29,"y":-81.9},{"x":2024.32,"y":-82.8},{"x":2024.35,"y":-83.6},{"x":2024.38,"y":-82.3},{"x":2024.41,"y":-83},{"x":2024.44,"y":-82.6},{"x":2024.47,"y":-83.3},{"x":2024.5,"y":-82.1},{"x":2024.53,"y":-82.8},
{"x":2024.7,"y":-82.6},{"x":2024.74,"y":-82},{"x":2024.78,"y":-82.9},{"x":2024.82,"y":-82.3},{"x":2024.86,"y":-83.2},{"x":2024.89,"y":-82.5},{"x":2024.92,"y":-82},{"x":2024.95,"y":-82.7},{"x":2024.98,"y":-83.3},{"x":2025.01,"y":-82.2},{"x":2025.04,"y":-81.8},{"x":2025.07,"y":-82.6},{"x":2025.1,"y":-82},{"x":2025.13,"y":-82.9},{"x":2025.16,"y":-81.6},{"x":2025.19,"y":-82.3},{"x":2025.22,"y":-81.4},{"x":2025.25,"y":-82},{"x":2025.28,"y":-80.8},{"x":2025.3,"y":-81.5},{"x":2025.32,"y":-79.8},{"x":2025.35,"y":-79},{"x":2025.38,"y":-78.5},{"x":2025.4,"y":-79.6},{"x":2025.43,"y":-77.9},{"x":2025.46,"y":-78.8},{"x":2025.48,"y":-77.4},{"x":2025.51,"y":-78.2},{"x":2025.54,"y":-76.9},{"x":2025.57,"y":-77.6},{"x":2025.6,"y":-76.5},{"x":2025.62,"y":-78},{"x":2025.65,"y":-76.2},{"x":2025.67,"y":-77.2},{"x":2025.7,"y":-75.6},{"x":2025.72,"y":-74.8},{"x":2025.75,"y":-75.9},{"x":2025.77,"y":-74.3},{"x":2025.8,"y":-75.2},{"x":2025.82,"y":-73.9},{"x":2025.85,"y":-74.7},{"x":2025.87,"y":-73.5},{"x":2025.9,"y":-74.4},{"x":2025.92,"y":-73.2},{"x":2025.95,"y":-74.1},{"x":2025.97,"y":-75.3},{"x":2026,"y":-73.6},{"x":2026.02,"y":-72.9},{"x":2026.05,"y":-74},{"x":2026.07,"y":-73.3},{"x":2026.1,"y":-72.6},{"x":2026.12,"y":-73.8},{"x":2026.15,"y":-73.1},{"x":2026.17,"y":-74.4},{"x":2026.2,"y":-72.8},{"x":2026.22,"y":-73.5},{"x":2026.25,"y":-73},{"x":2026.27,"y":-74.1},{"x":2026.3,"y":-72.7},{"x":2026.32,"y":-73.4},{"x":2026.35,"y":-73.9},{"x":2026.37,"y":-72.9},{"x":2026.4,"y":-73.6},{"x":2026.42,"y":-74.3},{"x":2026.45,"y":-73.2},{"x":2026.47,"y":-74},{"x":2026.5,"y":-73.5},{"x":2026.52,"y":-74.6},{"x":2026.55,"y":-73.8},{"x":2026.57,"y":-74.2},{"x":2026.6,"y":-73.4},{"x":2026.62,"y":-75},{"x":2026.65,"y":-73.9},{"x":2026.67,"y":-74.5},{"x":2026.7,"y":-73.6},{"x":2026.72,"y":-74.8},{"x":2026.75,"y":-74.1},{"x":2026.77,"y":-73.5},{"x":2026.8,"y":-74.3},{"x":2026.82,"y":-75.1},{"x":2026.85,"y":-73.8},{"x":2026.87,"y":-74.4},{"x":2026.9,"y":-73.2},{"x":2026.92,"y":-74},{"x":2026.95,"y":-72.9},{"x":2026.97,"y":-73.6},{"x":2027,"y":-72.4},{"x":2027.02,"y":-73.1},{"x":2027.05,"y":-71.8},{"x":2027.07,"y":-72.6},{"x":2027.1,"y":-71.2},{"x":2027.12,"y":-72},{"x":2027.15,"y":-70.4},{"x":2027.17,"y":-71.3},{"x":2027.2,"y":-69.8},{"x":2027.22,"y":-70.6},{"x":2027.25,"y":-69},{"x":2027.27,"y":-69.8},
{"x":2025.4,"y":-78.5},{"x":2025.45,"y":-80},{"x":2025.52,"y":-79.2},{"x":2025.58,"y":-80.3},{"x":2025.63,"y":-79.5},{"x":2025.7,"y":-77.8},{"x":2025.74,"y":-80.5},{"x":2025.78,"y":-78.6},{"x":2025.88,"y":-76.8},{"x":2025.95,"y":-77.5},{"x":2026.03,"y":-76.2},{"x":2026.08,"y":-77.8},{"x":2026.15,"y":-75.9},{"x":2026.22,"y":-76.8},{"x":2026.3,"y":-75.5},{"x":2026.38,"y":-77.2},{"x":2026.44,"y":-76},{"x":2026.52,"y":-76.5},{"x":2026.6,"y":-76.3},{"x":2026.66,"y":-77.5},{"x":2026.75,"y":-76},{"x":2026.85,"y":-75.8},{"x":2025.85,"y":-71},{"x":2025.97,"y":-70.6},{"x":2026.11,"y":-71.3},{"x":2026.41,"y":-71},{"x":2026.56,"y":-71.8},{"x":2026.33,"y":-79.3},
{"x":2027.22,"y":-68.3},{"x":2027.34,"y":-63.5},{"x":2027.39,"y":-66.2},{"x":2027.43,"y":-62.8},{"x":2027.48,"y":-67.6},{"x":2027.53,"y":-71.6},{"x":2027.62,"y":-68.3},{"x":2027.67,"y":-73},{"x":2027.8,"y":-68.9},{"x":2027.85,"y":-71},{"x":2027.94,"y":-65.6},{"x":2027.97,"y":-63.5},{"x":2028.04,"y":-64.9},{"x":2028.08,"y":-66.2},{"x":2028.08,"y":-69.6},{"x":2028.22,"y":-71},{"x":2028.22,"y":-74.4},{"x":2027.13,"y":-76.7},{"x":2027.2,"y":-76.7},{"x":2027.29,"y":-79.1},{"x":2027.39,"y":-82.5},{"x":2027.43,"y":-79.8},{"x":2027.57,"y":-81.1},{"x":2027.62,"y":-79.1},{"x":2027.8,"y":-81.8},{"x":2027.99,"y":-79.1},{"x":2028.04,"y":-81.8},{"x":2027.11,"y":-87.5},{"x":2027.46,"y":-91.3},{"x":2027.55,"y":-92.9},{"x":2027.71,"y":-90.6},{"x":2027.8,"y":-87.5},{"x":2027.94,"y":-88.2},{"x":2028.01,"y":-87.2},
{"x":2028.25,"y":-61.5},{"x":2028.27,"y":-60.1},{"x":2028.25,"y":-63.2},{"x":2027.99,"y":-62.5},{"x":2028.01,"y":-63.9},{"x":2028.11,"y":-64.9},{"x":2028.13,"y":-61.2},{"x":2028.2,"y":-74},{"x":2028.22,"y":-74.7},{"x":2028.04,"y":-79.8},{"x":2028.06,"y":-81.8},{"x":2027.78,"y":-87.5},{"x":2027.69,"y":-85.5},{"x":2027.67,"y":-90.6},{"x":2027.8,"y":-82.1},{"x":2027.71,"y":-80.4},{"x":2027.62,"y":-82.5},{"x":2027.76,"y":-68.3},{"x":2027.71,"y":-65.6},{"x":2027.64,"y":-63.9},{"x":2027.59,"y":-72.3},{"x":2027.57,"y":-75.7},
{"x":2028.26,"y":-72},{"x":2028.26,"y":-70.5},{"x":2028.26,"y":-68.8},{"x":2028.26,"y":-67.2},{"x":2028.26,"y":-65.5},{"x":2028.26,"y":-64},{"x":2028.26,"y":-62.5},{"x":2028.26,"y":-59.5},{"x":2028.26,"y":-58},{"x":2028.26,"y":-56.5},{"x":2028.26,"y":-55},{"x":2028.26,"y":-53.5},{"x":2028.26,"y":-52},{"x":2028.26,"y":-50.5},{"x":2028.26,"y":-49},{"x":2028.26,"y":-47.5},{"x":2028.26,"y":-46},
{"x":2028.68,"y":-48.2},{"x":2028.72,"y":-49},{"x":2028.76,"y":-48.5},{"x":2028.8,"y":-49.5},{"x":2028.84,"y":-48.8},{"x":2028.88,"y":-50},{"x":2028.92,"y":-49.2},{"x":2028.96,"y":-50.5},{"x":2029,"y":-49.6},{"x":2029.04,"y":-48.9},{"x":2029.08,"y":-50.2},{"x":2029.12,"y":-49.4},{"x":2029.16,"y":-50.8},{"x":2029.2,"y":-49.8},{"x":2029.24,"y":-48.5},{"x":2028.86,"y":-51.3},{"x":2028.94,"y":-52.5},{"x":2029.02,"y":-51.8},{"x":2029.1,"y":-53.2},{"x":2028.9,"y":-53.6},{"x":2029.18,"y":-52},{"x":2028.78,"y":-51},{"x":2029.23,"y":-51.5}
],
"rf":[
{"x":2020.86,"y":-80.3},{"x":2020.89,"y":-80},{"x":2020.92,"y":-80.5},{"x":2020.95,"y":-79.9},{"x":2021.1,"y":-79.6},{"x":2021.13,"y":-80.2},{"x":2021.16,"y":-79.3},{"x":2021.18,"y":-80.6},{"x":2021.22,"y":-79},{"x":2021.25,"y":-79.8},{"x":2021.28,"y":-78.6},{"x":2021.31,"y":-79.4},{"x":2021.34,"y":-80.1},{"x":2021.37,"y":-79.1},{"x":2021.4,"y":-78.3},{"x":2021.43,"y":-79.6},{"x":2021.46,"y":-78.9},{"x":2021.49,"y":-80.3},{"x":2021.52,"y":-79.2},{"x":2021.55,"y":-78.4},{"x":2021.58,"y":-79.7},{"x":2021.62,"y":-80.8},{"x":2021.68,"y":-80.8},{"x":2021.72,"y":-78.6},{"x":2021.76,"y":-77.7},{"x":2021.78,"y":-77},{"x":2021.8,"y":-78.2},{"x":2021.84,"y":-77.4},{"x":2021.87,"y":-78.6},{"x":2021.92,"y":-77},{"x":2022,"y":-77.6},{"x":2022.04,"y":-76.8},{"x":2022.07,"y":-78.9},{"x":2022.06,"y":-80.6},{"x":2022.12,"y":-77.3},{"x":2022.16,"y":-76.5},{"x":2022.2,"y":-77},{"x":2022.24,"y":-76.2},{"x":2022.27,"y":-78.2},{"x":2022.31,"y":-76},{"x":2022.35,"y":-76.7},{"x":2022.39,"y":-75.8},{"x":2022.43,"y":-76.3},{"x":2022.47,"y":-77.4},{"x":2022.5,"y":-75.5},{"x":2022.54,"y":-76.1},{"x":2022.58,"y":-75.2},{"x":2022.62,"y":-75.9},{"x":2022.66,"y":-74.8},{"x":2022.7,"y":-75.5},{"x":2022.73,"y":-74.3},{"x":2022.76,"y":-76},{"x":2022.8,"y":-74.9},{"x":2022.83,"y":-74.2},{"x":2022.86,"y":-75.3},{"x":2022.89,"y":-74.6},{"x":2022.92,"y":-73.7},{"x":2022.95,"y":-74.9},{"x":2022.98,"y":-74.3},{"x":2023.01,"y":-75.6},{"x":2023.04,"y":-74},{"x":2023.08,"y":-74.6},{"x":2023.12,"y":-73.5},{"x":2023.15,"y":-74.3},{"x":2023.19,"y":-73.9},{"x":2023.23,"y":-72.9},{"x":2023.26,"y":-73.6},{"x":2023.3,"y":-74.2},{"x":2023.33,"y":-73.1},{"x":2023.37,"y":-73.7},{"x":2023.4,"y":-72.8},{"x":2023.44,"y":-73.4},{"x":2023.47,"y":-74},{"x":2023.5,"y":-72.9},{"x":2023.53,"y":-73.5},{"x":2023.56,"y":-72.5},{"x":2023.6,"y":-73.2},{"x":2023.63,"y":-72.8},{"x":2023.66,"y":-73.8},{"x":2023.69,"y":-72.4},{"x":2023.72,"y":-73.1},{"x":2023.75,"y":-72.6},{"x":2023.78,"y":-73.5},{"x":2023.81,"y":-72.9},{"x":2023.84,"y":-72.3},{"x":2023.87,"y":-73.2},{"x":2023.9,"y":-72.7},{"x":2023.93,"y":-73.6},{"x":2023.96,"y":-72.9},{"x":2023.99,"y":-73.3},{"x":2024.02,"y":-72.6},{"x":2024.05,"y":-73.4},{"x":2024.08,"y":-72.9},{"x":2024.11,"y":-73.7},{"x":2024.14,"y":-73.1},{"x":2024.17,"y":-72.5},{"x":2024.2,"y":-73.5},{"x":2024.23,"y":-72.8},{"x":2024.26,"y":-74},{"x":2024.29,"y":-73.2},{"x":2024.32,"y":-72.7},{"x":2024.35,"y":-73.6},{"x":2024.38,"y":-73},{"x":2024.41,"y":-74.2},{"x":2024.44,"y":-73.4},{"x":2024.47,"y":-72.9},{"x":2024.5,"y":-73.7},{"x":2024.53,"y":-73.1},
{"x":2024.68,"y":-73.6},{"x":2024.72,"y":-72.9},{"x":2024.75,"y":-73.7},{"x":2024.79,"y":-73.2},{"x":2024.82,"y":-72.6},{"x":2024.86,"y":-73.5},{"x":2024.89,"y":-72.9},{"x":2024.92,"y":-74},{"x":2024.95,"y":-73.3},{"x":2024.98,"y":-72.7},{"x":2025.01,"y":-73.6},{"x":2025.04,"y":-73},{"x":2025.07,"y":-72.4},{"x":2025.1,"y":-73.3},{"x":2025.13,"y":-72.7},{"x":2025.16,"y":-73.8},{"x":2025.19,"y":-72.5},{"x":2025.22,"y":-73.2},{"x":2025.25,"y":-72},{"x":2025.28,"y":-71.4},{"x":2025.3,"y":-72.6},{"x":2025.33,"y":-70.8},{"x":2025.36,"y":-71.6},{"x":2025.38,"y":-70.2},{"x":2025.41,"y":-70.9},{"x":2025.43,"y":-69.6},{"x":2025.46,"y":-70.4},{"x":2025.48,"y":-69.2},{"x":2025.51,"y":-69.9},{"x":2025.54,"y":-68.6},{"x":2025.57,"y":-69.4},{"x":2025.59,"y":-68},{"x":2025.62,"y":-68.8},{"x":2025.64,"y":-67.4},{"x":2025.67,"y":-68.1},{"x":2025.69,"y":-66.9},{"x":2025.72,"y":-67.6},{"x":2025.74,"y":-66.5},{"x":2025.77,"y":-67.3},{"x":2025.79,"y":-66.1},{"x":2025.82,"y":-66.8},{"x":2025.84,"y":-65.8},{"x":2025.87,"y":-66.6},{"x":2025.89,"y":-65.4},{"x":2025.92,"y":-66.3},{"x":2025.94,"y":-65.7},{"x":2025.97,"y":-66.5},{"x":2025.99,"y":-65.3},{"x":2026.02,"y":-66.1},{"x":2026.04,"y":-65.6},{"x":2026.07,"y":-66.7},{"x":2026.09,"y":-65.4},{"x":2026.12,"y":-66.2},{"x":2026.14,"y":-65.7},{"x":2026.17,"y":-66.5},{"x":2026.19,"y":-65.9},{"x":2026.22,"y":-66.8},{"x":2026.24,"y":-65.5},{"x":2026.27,"y":-66.3},{"x":2026.29,"y":-65.8},{"x":2026.32,"y":-66.9},{"x":2026.34,"y":-65.6},{"x":2026.37,"y":-66.4},{"x":2026.39,"y":-67.1},{"x":2026.42,"y":-66},{"x":2026.44,"y":-66.7},{"x":2026.47,"y":-65.8},{"x":2026.49,"y":-66.6},{"x":2026.52,"y":-67.3},{"x":2026.54,"y":-66.1},{"x":2026.57,"y":-66.8},{"x":2026.59,"y":-65.9},{"x":2026.62,"y":-66.5},{"x":2026.64,"y":-65.6},{"x":2026.67,"y":-66.3},{"x":2026.69,"y":-65.2},{"x":2026.72,"y":-65.9},{"x":2026.74,"y":-64.9},{"x":2026.77,"y":-65.6},{"x":2026.79,"y":-64.6},{"x":2026.82,"y":-65.3},{"x":2026.84,"y":-64.3},{"x":2026.87,"y":-65},{"x":2026.89,"y":-64},{"x":2026.92,"y":-64.8},{"x":2026.94,"y":-63.8},{"x":2026.97,"y":-64.5},{"x":2026.99,"y":-63.4},{"x":2027.02,"y":-64.1},{"x":2027.04,"y":-63},{"x":2027.07,"y":-63.7},{"x":2027.09,"y":-62.6},{"x":2027.12,"y":-63.3},{"x":2027.14,"y":-62.2},{"x":2027.17,"y":-62.9},{"x":2027.19,"y":-61.8},{"x":2027.22,"y":-62.5},{"x":2027.24,"y":-61.4},{"x":2027.27,"y":-62},{"x":2027.29,"y":-61},
{"x":2025.7,"y":-69.2},{"x":2025.78,"y":-68.5},{"x":2025.86,"y":-69},{"x":2025.93,"y":-68.2},{"x":2026,"y":-69.4},{"x":2026.06,"y":-68},{"x":2026.14,"y":-68.8},{"x":2026.21,"y":-69.3},{"x":2026.28,"y":-68.3},{"x":2026.36,"y":-68.9},{"x":2026.46,"y":-68.4},{"x":2026.55,"y":-69.1},{"x":2026.63,"y":-68},{"x":2026.7,"y":-67.8},{"x":2026.78,"y":-67.5},{"x":2025.6,"y":-71},{"x":2025.5,"y":-72},{"x":2025.45,"y":-73},{"x":2025.58,"y":-70.5},{"x":2025.39,"y":-73.5},{"x":2025.05,"y":-71.2},{"x":2025.18,"y":-71.8},
{"x":2027.25,"y":-58.1},{"x":2027.34,"y":-59.5},{"x":2027.43,"y":-58.5},{"x":2027.62,"y":-58.8},{"x":2027.71,"y":-59.5},{"x":2027.94,"y":-58.8},{"x":2027.99,"y":-60.1},{"x":2028.08,"y":-57.4},{"x":2028.13,"y":-59.5},{"x":2027.83,"y":-62.2},{"x":2027.71,"y":-62.2},{"x":2027.57,"y":-70.3},{"x":2027.6,"y":-71.6},{"x":2027.62,"y":-71},{"x":2027.8,"y":-70.3},{"x":2027.85,"y":-72.3},{"x":2027.9,"y":-73.7},{"x":2028.04,"y":-74.3},{"x":2027.8,"y":-79.1},{"x":2027.62,"y":-79.8},{"x":2027.57,"y":-80.4},{"x":2027.71,"y":-79.1},{"x":2027.99,"y":-77.1},{"x":2028.08,"y":-77.1},
{"x":2027.41,"y":-60.1},{"x":2027.32,"y":-62.2},{"x":2027.34,"y":-63.5},{"x":2027.48,"y":-65.9},{"x":2027.36,"y":-67.9},{"x":2027.39,"y":-69.6},{"x":2027.57,"y":-67.9},{"x":2027.64,"y":-67.6},{"x":2027.74,"y":-67.6},{"x":2027.55,"y":-71},{"x":2027.36,"y":-73},{"x":2027.71,"y":-75},{"x":2027.76,"y":-77.1},{"x":2027.48,"y":-79.4},{"x":2027.71,"y":-78.7},{"x":2027.99,"y":-58.1},{"x":2027.97,"y":-60.1},{"x":2028.04,"y":-60.5},{"x":2027.99,"y":-65.2},{"x":2028.01,"y":-65.9},{"x":2027.97,"y":-68.9},{"x":2027.87,"y":-69.6},{"x":2027.83,"y":-70.3},{"x":2028.22,"y":-66.6},{"x":2028.25,"y":-67.3},{"x":2027.99,"y":-77.4},{"x":2027.9,"y":-78.4},
{"x":2028.27,"y":-37.5},{"x":2028.27,"y":-39},{"x":2028.27,"y":-40.5},{"x":2028.27,"y":-42},{"x":2028.27,"y":-43.5},{"x":2028.27,"y":-45},{"x":2028.27,"y":-46.5},{"x":2028.27,"y":-48},{"x":2028.27,"y":-49.5},{"x":2028.27,"y":-51},{"x":2028.28,"y":-54},{"x":2028.27,"y":-55.5},{"x":2028.28,"y":-57},{"x":2028.27,"y":-58.5},{"x":2028.28,"y":-61.5},{"x":2028.27,"y":-64.5},{"x":2028.28,"y":-66},{"x":2028.28,"y":-38.3},{"x":2028.28,"y":-41.2},{"x":2028.28,"y":-44.2},{"x":2028.28,"y":-47.2},
{"x":2028.29,"y":-38.5},{"x":2028.29,"y":-40},{"x":2028.29,"y":-41.5},{"x":2028.31,"y":-39},{"x":2028.31,"y":-40.6},{"x":2028.31,"y":-42.2},{"x":2028.33,"y":-38.8},{"x":2028.33,"y":-40.3},{"x":2028.33,"y":-41.8},{"x":2028.35,"y":-39.3},{"x":2028.35,"y":-40.8},{"x":2028.35,"y":-42.4},{"x":2028.37,"y":-39},{"x":2028.37,"y":-40.5},{"x":2028.37,"y":-42},{"x":2028.4,"y":-39.8},{"x":2028.4,"y":-41.2},{"x":2028.4,"y":-42.5},{"x":2028.42,"y":-40.2},{"x":2028.42,"y":-41.5},{"x":2028.44,"y":-39.5},{"x":2028.44,"y":-40.9},{"x":2028.46,"y":-39.2},{"x":2028.46,"y":-40.6},{"x":2028.46,"y":-41.8},{"x":2028.48,"y":-39},{"x":2028.48,"y":-40.3},{"x":2028.48,"y":-41.5},{"x":2028.5,"y":-39.4},{"x":2028.5,"y":-40.8},{"x":2028.52,"y":-39.1},{"x":2028.52,"y":-40.5},{"x":2028.52,"y":-41.7},{"x":2028.54,"y":-39.5},{"x":2028.54,"y":-40.9},{"x":2028.56,"y":-39.2},{"x":2028.56,"y":-40.4},{"x":2028.56,"y":-41.6},{"x":2028.58,"y":-39.6},{"x":2028.58,"y":-40.8},{"x":2028.6,"y":-39},{"x":2028.6,"y":-40.3},{"x":2028.6,"y":-41.5},{"x":2028.62,"y":-39.4},{"x":2028.62,"y":-40.7},{"x":2028.62,"y":-42.5},{"x":2028.62,"y":-44},{"x":2028.64,"y":-39.2},{"x":2028.64,"y":-41},{"x":2028.64,"y":-43},{"x":2028.64,"y":-45},{"x":2028.64,"y":-46.5},{"x":2028.66,"y":-40.5},{"x":2028.66,"y":-42.5},{"x":2028.66,"y":-44.5},{"x":2028.66,"y":-46},
{"x":2028.68,"y":-41},{"x":2028.68,"y":-42.5},{"x":2028.68,"y":-44},{"x":2028.68,"y":-45.5},{"x":2028.68,"y":-47},{"x":2028.68,"y":-48.5},{"x":2028.71,"y":-42},{"x":2028.71,"y":-43.5},{"x":2028.71,"y":-45},{"x":2028.71,"y":-46.5},{"x":2028.71,"y":-48},{"x":2028.74,"y":-41.5},{"x":2028.74,"y":-43},{"x":2028.74,"y":-44.5},{"x":2028.74,"y":-46},{"x":2028.74,"y":-47.5},{"x":2028.74,"y":-49},{"x":2028.77,"y":-43},{"x":2028.77,"y":-44.5},{"x":2028.77,"y":-46},{"x":2028.77,"y":-47.5},{"x":2028.77,"y":-48.8},{"x":2028.8,"y":-46.8},{"x":2028.8,"y":-48},{"x":2028.84,"y":-47.2},{"x":2028.84,"y":-48.4},{"x":2028.88,"y":-47.5},{"x":2028.88,"y":-48.7},{"x":2028.92,"y":-47},{"x":2028.92,"y":-48.3},{"x":2028.96,"y":-47.4},{"x":2028.96,"y":-48.6},{"x":2029,"y":-47},{"x":2029,"y":-48.2},{"x":2029.04,"y":-46.8},{"x":2029.04,"y":-48},{"x":2029.08,"y":-46.5},{"x":2029.08,"y":-47.8},{"x":2029.12,"y":-46.2},{"x":2029.12,"y":-47.5},{"x":2029.16,"y":-45.8},{"x":2029.16,"y":-47.2},{"x":2029.19,"y":-44.5},{"x":2029.19,"y":-46},{"x":2029.19,"y":-47.4},{"x":2029.21,"y":-41},{"x":2029.21,"y":-42.5},{"x":2029.21,"y":-44},{"x":2029.21,"y":-45.5},{"x":2029.21,"y":-47},{"x":2029.21,"y":-48.5},{"x":2029.23,"y":-40},{"x":2029.23,"y":-41.5},{"x":2029.23,"y":-43},{"x":2029.23,"y":-44.5},{"x":2029.23,"y":-46},{"x":2029.23,"y":-47.5},{"x":2029.23,"y":-49},{"x":2028.9,"y":-51.4},{"x":2028.83,"y":-52},
{"x":2029.26,"y":-38},{"x":2029.26,"y":-36.5},{"x":2029.26,"y":-35},{"x":2029.26,"y":-33.5},{"x":2029.26,"y":-32},{"x":2029.26,"y":-30.5},{"x":2029.26,"y":-29},{"x":2029.26,"y":-27.5},{"x":2029.26,"y":-26},{"x":2029.29,"y":-39},{"x":2029.29,"y":-37},{"x":2029.29,"y":-35},{"x":2029.29,"y":-33},{"x":2029.29,"y":-31},{"x":2029.32,"y":-38.5},{"x":2029.32,"y":-36},{"x":2029.32,"y":-33.5},{"x":2029.32,"y":-31},{"x":2029.32,"y":-28.5},{"x":2029.35,"y":-40},{"x":2029.35,"y":-37.5},{"x":2029.35,"y":-35},{"x":2029.35,"y":-32.5},{"x":2029.35,"y":-30},{"x":2029.35,"y":-27.5},{"x":2029.35,"y":-25},{"x":2029.37,"y":-36},{"x":2029.37,"y":-33},{"x":2029.37,"y":-30},{"x":2029.37,"y":-27},{"x":2029.37,"y":-24},{"x":2029.37,"y":-21},{"x":2029.37,"y":-18},{"x":2029.39,"y":-30},{"x":2029.39,"y":-27},{"x":2029.39,"y":-24},{"x":2029.39,"y":-21},{"x":2029.39,"y":-18},{"x":2029.39,"y":-15},{"x":2029.39,"y":-12},{"x":2029.39,"y":-9},{"x":2029.41,"y":-22},{"x":2029.41,"y":-19},{"x":2029.41,"y":-16},{"x":2029.41,"y":-13},{"x":2029.41,"y":-10},{"x":2029.41,"y":-7},{"x":2029.43,"y":-14},{"x":2029.43,"y":-11},{"x":2029.43,"y":-8},{"x":2029.43,"y":-5},{"x":2029.43,"y":-3},{"x":2029.45,"y":-8},{"x":2029.45,"y":-5.5},{"x":2029.45,"y":-3},{"x":2029.45,"y":-1.2},{"x":2029.47,"y":-4},{"x":2029.47,"y":-2},{"x":2029.47,"y":-0.5},{"x":2029.39,"y":-2.7}
]
},
"layer":[
{"data":{"name":"all"},"mark":{"type":"circle","size":30,"opacity":1,"clip":true},
"encoding":{
"x":{"field":"x","type":"quantitative","scale":{"domain":[2020.86,2029.54],"nice":false,"zero":false},"axis":{"orient":"bottom","values":[2021,2022,2023,2024,2025,2026,2027,2028,2029],"format":"d","title":"SOUTH <-- UTM Northing (km) --> NORTH","grid":true,"labelPadding":14,"titlePadding":12}},
"y":{"field":"y","type":"quantitative","scale":{"domain":[-100,0],"nice":false,"zero":false},"axis":{"orient":"left","values":[-100,-90,-80,-70,-60,-50,-40,-30,-20,-10],"title":"Elevation (m)","grid":true,"titlePadding":4}},
"color":{"datum":"All Data","type":"nominal","scale":{"domain":["All Data","Sea Floor/Ground","Sea Floor/Ground + Refrac"],"range":["#0072BD","#D95319","#EDB120"]},"legend":{"title":null}}}},
{"data":{"name":"sf"},"mark":{"type":"circle","size":30,"opacity":1,"clip":true},
"encoding":{
"x":{"field":"x","type":"quantitative","axis":{"orient":"top","values":[2021,2022,2023,2024,2025,2026,2027,2028,2029],"labels":false,"title":null,"grid":false}},
"y":{"field":"y","type":"quantitative","axis":{"orient":"right","values":[-100,-90,-80,-70,-60,-50,-40,-30,-20,-10],"labels":false,"title":null,"grid":false}},
"color":{"datum":"Sea Floor/Ground","type":"nominal"}}},
{"data":{"name":"rf"},"mark":{"type":"circle","size":30,"opacity":1,"clip":true},
"encoding":{
"x":{"field":"x","type":"quantitative","axis":null},
"y":{"field":"y","type":"quantitative","axis":null},
"color":{"datum":"Sea Floor/Ground + Refrac","type":"nominal"}}}
],
"resolve":{"axis":{"x":"independent","y":"independent"}}
}
